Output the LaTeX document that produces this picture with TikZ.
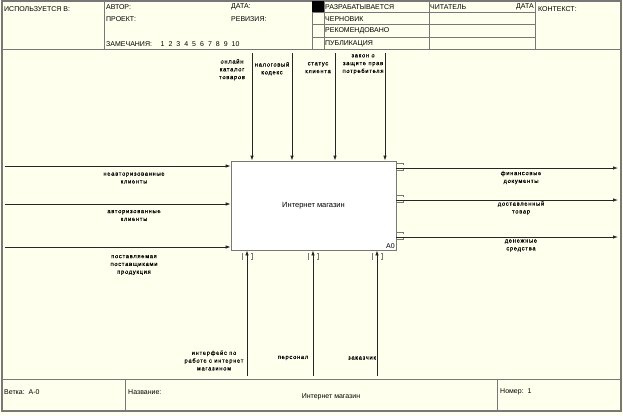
\documentclass[tikz,border=0pt]{standalone}
\usepackage{fontspec}
\setmainfont{Liberation Sans}
\newfontfamily\lblfont[LetterSpace=12, FakeBold=0.4]{Liberation Sans}
\usetikzlibrary{arrows.meta}

\definecolor{paper}{RGB}{255,255,238}
\definecolor{rule}{RGB}{120,120,120}

\begin{document}
\begin{tikzpicture}[x=1pt, y=-1pt, >={Latex[length=5pt,width=3.5pt]}]
	\tikzstyle{frame} = [ draw=rule, line width=1.2pt ];
	\tikzstyle{grid} = [ draw=rule, line width=0.8pt ];
	\tikzstyle{head} = [ anchor=west, inner sep=0pt, font={\fontsize{7}{8}\selectfont} ];
	\tikzstyle{func} = [ draw=rule, line width=0.8pt, fill=white, minimum width=165pt, minimum height=89pt, inner sep=0pt, font={\fontsize{7.5}{8}\selectfont} ];
	\tikzstyle{info} = [ align=center, inner sep=0pt, font={\lblfont\fontsize{5.8}{7.8}\selectfont} ];
	\tikzstyle{flow} = [ ->, line width=0.8pt, draw={black!85} ];
	\tikzstyle{tunnel} = [ draw=rule, line width=0.6pt ];

	\fill[paper] (0,0) rectangle (623,415);
	\useasboundingbox (0,0) rectangle (623,415);

	\draw[frame] (2,1) rectangle (621,411);
	\draw[grid] (2,49) -- (621,49);
	\draw[grid] (2,379) -- (621,379);
	\foreach \x in {104,312,324,429,535}
		\draw[grid] (\x,1) -- (\x,49);
	\foreach \y in {12,24,37}
		\draw[grid] (312,\y) -- (535,\y);
	\fill[black] (312,1) rectangle (324,12);
	\draw[grid] (125,379) -- (125,411);
	\draw[grid] (497,379) -- (497,411);

	\node[head] (used) at (4,9) {ИСПОЛЬЗУЕТСЯ В:};
	\node[head] (author) at (106,7) {АВТОР:};
	\node[head] (project) at (106,19) {ПРОЕКТ:};
	\node[head] (notes) at (106,44) {ЗАМЕЧАНИЯ:};
	\foreach \n [count=\k] in {1,...,10}
		\node[head] (note\n) at (152.5+7.9*\k,44) {\n};
	\node[head] (date) at (231,7) {ДАТА:};
	\node[head] (rev) at (231,19) {РЕВИЗИЯ:};
	\node[head] (work) at (325,7) {РАЗРАБАТЫВАЕТСЯ};
	\node[head] (draft) at (325,19) {ЧЕРНОВИК};
	\node[head] (recom) at (325,31) {РЕКОМЕНДОВАНО};
	\node[head] (pub) at (325,44) {ПУБЛИКАЦИЯ};
	\node[head] (reader) at (430,7) {ЧИТАТЕЛЬ};
	\node[head, anchor=east] (rdate) at (534,7) {ДАТА};
	\node[head] (context) at (538,9) {КОНТЕКСТ:};

	\node[head] (node) at (4,392) {Ветка:\ \ А-0};
	\node[head] (title) at (128,392) {Название:};
	\node[head, anchor=center] (name) at (331,397) {Интернет магазин};
	\node[head] (number) at (500,392) {Номер:\ \ 1};

	\node[func] (a0) at (313.5,205.5) {Интернет магазин};
	\node[anchor=south east, inner sep=1.5pt, font={\fontsize{7}{7}\selectfont}] (a0num) at (a0.south east) {A0};

	\foreach \y/\ly/\lbl [count=\i] in {166/178/{неавторизованные\\клиенты}, 204/215.5/{авторизованные\\клиенты}, 247/265/{поставляемая\\поставщиками\\продукция}} {
		\coordinate (in\i) at (5,\y);
		\draw[flow] (in\i) -- (a0.west |- in\i);
		\node[info] (inlbl\i) at (134,\ly) {\lbl};
	}

	\foreach \y/\ly/\lbl [count=\i] in {168/177.5/{финансовые\\документы}, 200/208/{доставленный\\товар}, 237/245.5/{денежные\\средства}} {
		\coordinate (out\i) at (618,\y);
		\draw[flow] (a0.east |- out\i) -- (out\i);
		\draw[tunnel] (a0.east |- out\i) ++(0,-5) -- ++(7,0) -- ++(0,1.5);
		\draw[tunnel] (a0.east |- out\i) ++(0,2.5) -- ++(7,0) -- ++(0,-1.5);
		\node[info] (outlbl\i) at (521,\ly) {\lbl};
	}

	\foreach \x/\lx/\ly/\lbl [count=\i] in {252/232/59/{онлайн\\каталог\\товаров}, 292/272/62/{налоговый\\кодекс}, 335/318/62/{статус\\клиента}, 385/363/54/{закон о\\защите прав\\потребителя}} {
		\coordinate (ctl\i) at (\x,53);
		\draw[flow] (ctl\i) -- (ctl\i |- a0.north);
		\node[info, anchor=north] (ctllbl\i) at (\lx,\ly) {\lbl};
	}

	\foreach \x/\lx/\ly/\lbl [count=\i] in {247/214/360.5/{интерфейс по\\работе с интернет\\магазином}, 313/293/358/{персонал}, 377/362/358/{заказчик}} {
		\coordinate (mec\i) at (\x,376);
		\draw[flow] (mec\i) -- (mec\i |- a0.south);
		\draw[tunnel] (mec\i |- a0.south) ++(-4,2.5) -- ++(-1,0) -- ++(0,6.5) -- ++(1,0);
		\draw[tunnel] (mec\i |- a0.south) ++(4,2.5) -- ++(1,0) -- ++(0,6.5) -- ++(-1,0);
		\node[info] (meclbl\i) at (\lx,\ly) {\lbl};
	}

\end{tikzpicture}
\end{document}
